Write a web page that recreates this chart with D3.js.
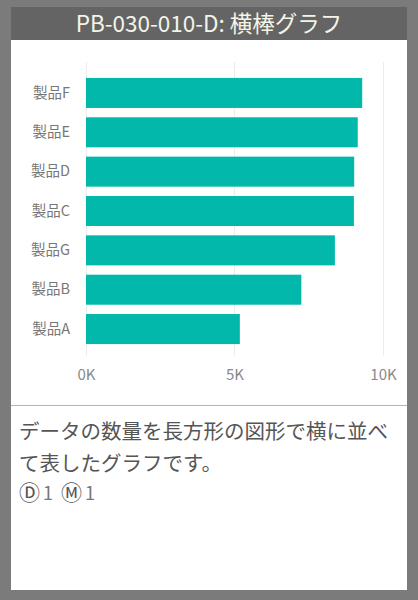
<!DOCTYPE html>
<html>
<head>
<meta charset="utf-8">
<script src="https://cdn.jsdelivr.net/npm/d3@7"></script>
<style>
  html, body { margin: 0; padding: 0; background: #7b7b7b; }
  svg { display: block; }
</style>
</head>
<body>
<svg id="chart" width="418" height="600"></svg>
<script>
// 表示するデータ
var categories = ["製品F", "製品E", "製品D", "製品C", "製品G", "製品B", "製品A"];
var values = [9300, 9150, 9030, 9020, 8380, 7250, 5180];
var tickValues = [0, 5000, 10000];
var tickLabels = ["0K", "5K", "10K"];
var titleText = "PB-030-010-D: 横棒グラフ";
var descLines = ["データの数量を長方形の図形で横に並べ", "て表したグラフです。"];
var badges = [["Ⓓ", "1"], ["Ⓜ", "1"]];

var font = "'Noto Sans CJK JP', 'Noto Sans', sans-serif";
var svg = d3.select("#chart");

// カード
svg.append("rect")
    .attr("x", 11).attr("y", 7)
    .attr("width", 396).attr("height", 583)
    .attr("fill", "#fff");

svg.append("rect")
    .attr("x", 11).attr("y", 7)
    .attr("width", 396).attr("height", 33)
    .attr("fill", "#646464");

svg.append("text")
    .attr("x", 209).attr("y", 24)
    .attr("dy", "0.35em")
    .attr("text-anchor", "middle")
    .attr("font-family", font)
    .attr("font-size", 22.5)
    .attr("fill", "#f4f4e8")
    .text(titleText);

var data = categories.map((c, i) => ({name: c, value: values[i]}));

var x = d3.scaleLinear()
    .domain([0, 10000])
    .range([86, 383]);

var y = d3.scaleBand()
    .domain(categories)
    .range([74, 348])
    .paddingInner(0.237)
    .paddingOuter(0.1);

// グリッド線
svg.append("g")
    .selectAll("line")
    .data(tickValues)
    .join("line")
    .attr("x1", d => x(d)).attr("x2", d => x(d))
    .attr("y1", 62).attr("y2", 356)
    .attr("stroke", "#ececec")
    .attr("stroke-width", 1)
    .style("shape-rendering", "crispEdges");

// 棒
svg.append("g")
    .selectAll("rect")
    .data(data)
    .join("rect")
    .attr("x", x(0))
    .attr("y", d => y(d.name))
    .attr("width", d => x(d.value) - x(0))
    .attr("height", y.bandwidth())
    .attr("fill", "#01b8aa");

// y 軸
var yAxis = d3.axisLeft(y).tickSize(0).tickPadding(0);
var gy = svg.append("g")
    .attr("transform", "translate(70,0)")
    .call(yAxis);
gy.select(".domain").remove();
gy.selectAll("text")
    .attr("font-family", font)
    .attr("font-size", 14.5)
    .attr("fill", "#777");

// x 軸
var xAxis = d3.axisBottom(x)
    .tickValues(tickValues)
    .tickFormat((d, i) => tickLabels[i])
    .tickSize(0).tickPadding(0);
var gx = svg.append("g")
    .attr("transform", "translate(0,369)")
    .call(xAxis);
gx.select(".domain").remove();
gx.selectAll("text")
    .attr("font-family", font)
    .attr("font-size", 15)
    .attr("fill", "#888");

// 区切り線
svg.append("line")
    .attr("x1", 11).attr("x2", 407)
    .attr("y1", 405.5).attr("y2", 405.5)
    .attr("stroke", "#b4b4b4");

// 説明
svg.append("g")
    .selectAll("text")
    .data(descLines)
    .join("text")
    .attr("x", 19)
    .attr("y", (d, i) => [432, 464][i])
    .attr("dy", "0.35em")
    .attr("font-family", font)
    .attr("font-size", 20.5)
    .attr("fill", "#555")
    .text(d => d);

// Ⓓ 1 Ⓜ 1
var badge = svg.append("text")
    .attr("x", 19).attr("y", 494)
    .attr("dy", "0.35em")
    .attr("font-family", font)
    .attr("fill", "#555");
badges.forEach(function(b, i) {
    badge.append("tspan")
        .attr("dx", i === 0 ? 0 : 8)
        .attr("font-size", 21)
        .text(b[0]);
    badge.append("tspan")
        .attr("dx", 3)
        .attr("font-size", 18)
        .attr("fill", "#777")
        .text(b[1]);
});
</script>
</body>
</html>
